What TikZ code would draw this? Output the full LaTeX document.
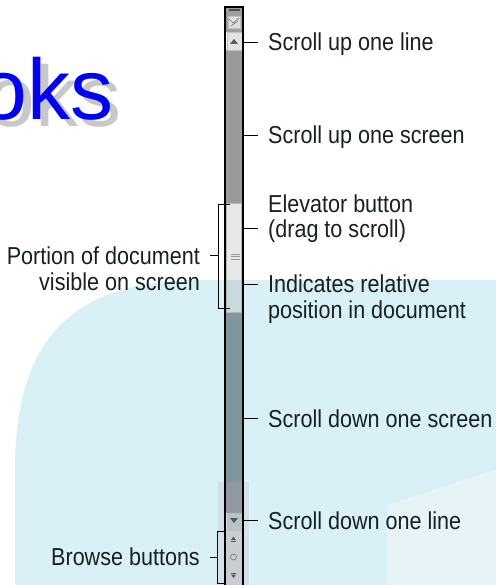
\documentclass[tikz,border=0pt]{standalone}
\usepackage{fontspec}
\setmainfont{Liberation Sans}
\newfontfamily\labelfont[FakeStretch=0.88]{Liberation Sans}
\usetikzlibrary{calc}
\definecolor{titleblue}{HTML}{0000FF}
\definecolor{titleshadow}{HTML}{C8C8C8}
\definecolor{cyanbg}{HTML}{D8F0F6}
\definecolor{cubelight}{HTML}{E6F4F8}
\definecolor{labelink}{HTML}{182024}
\definecolor{trackup}{HTML}{9A9A9A}
\definecolor{trackdown}{HTML}{7E969C}
\definecolor{elevup}{HTML}{E8E8E8}
\definecolor{elevdown}{HTML}{C6DADF}
\definecolor{btnface}{HTML}{E2E2E2}
\definecolor{btndown}{HTML}{B8C3C7}
\definecolor{browseface}{HTML}{C9CCD3}
\definecolor{pinkshade}{HTML}{D0A8C0}

\begin{document}
\begin{tikzpicture}[
    x=1pt, y=-1pt,
    label text/.style={font=\labelfont\fontsize{24.5}{26}\selectfont,inner sep=0pt,
        text height=17pt,text depth=0pt,text=labelink},
    leader/.style={draw,line width=0.9pt,shorten >=10pt},
    bracket/.style={draw,line width=0.9pt},
    bar border/.style={draw,line width=1.3pt},
    button/.style={draw=black!25,line width=0.6pt},
    glyph/.style={fill=black!65}
    ]
    \useasboundingbox (0,0) rectangle (495,585);
    % background
    \fill [cyanbg] (15,600) -- (15,470) .. controls (15,335) and (75,281) .. (200,280) -- (500,280) -- (500,600) -- cycle;
    \fill [cubelight] (387,505) -- (500,468) -- (500,600) -- (387,600) -- cycle;
    % title
    \node [anchor=base west,inner sep=0pt,text=titleshadow,font=\fontsize{86}{90}\selectfont] (titleshade) at (-13,127) {oks};
    \node [anchor=base west,inner sep=0pt,text=titleblue,font=\fontsize{86}{90}\selectfont] (title) at (-21,120) {oks};
    % track
    \fill [black!38] (225,7) rectangle (243,32);
    \fill [trackup] (225,50) rectangle (243,280);
    \fill [trackdown] (225,280) rectangle (243,513);
    \fill [pinkshade,opacity=0.22] (218,482) rectangle (249,585);
    % top split box
    \draw [line width=1.2pt,black!70] (229,10) -- (240,10);
    \draw [button,fill=black!12] (228,16) rectangle (240,28);
    \draw [black!55,line width=0.6pt] (229,19) -- (233,23) -- (239,18) (231,26) -- (238,21);
    % up one line
    \draw [button,fill=btnface] (227,32) rectangle (242,50);
    \fill [glyph] (230,44) -- (238,44) -- (234,39) -- cycle;
    % elevator
    \fill [elevup] (226,203) rectangle (242,280);
    \fill [elevdown] (226,280) rectangle (242,312);
    \draw [black!28,line width=0.6pt] (226.5,203) rectangle (241.5,312);
    \foreach \y in {254,256.5,259} {
        \draw [black!40,line width=0.6pt] (231,\y) -- (240,\y);
    }
    % down one line
    \draw [button,fill=btndown] (227,513) rectangle (242,530);
    \fill [glyph] (230,518) -- (238,518) -- (234,523) -- cycle;
    % browse
    \fill [browseface] (226,530.5) rectangle (242,590);
    \fill [glyph] (231,540) -- (236,540) -- (233.5,536.5) -- cycle;
    \draw [black!65,line width=0.8pt] (231,541.5) -- (236,541.5);
    \draw [black!55,fill=black!20,line width=0.6pt] (233.5,557) circle (3);
    \draw [black!65,line width=0.8pt] (231,573) -- (236,573);
    \fill [glyph] (231,574.5) -- (236,574.5) -- (233.5,578) -- cycle;
    % bar outline
    \draw [bar border] (225,590) -- (225,7) -- (243,7) -- (243,590);
    \coordinate (bar) at (243,0);
    % brackets
    \draw [bracket] (230,204) -- (218,204) -- (218,308) -- (230,308);
    \coordinate (portionbrace) at (218,0);
    \draw [bracket] (226,531) -- (217,531) -- (217,583) -- (226,583);
    \coordinate (browsebrace) at (217,0);
    % labels right
    \foreach \n/\y/\t in {upline/50.5/Scroll up one line,upscreen/143.5/Scroll up one screen,
        elev1/212/Elevator button,elev2/237/{(drag to scroll)},
        rel1/292.5/Indicates relative,rel2/318/position in document,
        downscreen/427/Scroll down one screen,downline/529/Scroll down one line} {
        \node [label text,anchor=base west] (\n) at (268,\y) {\t};
    }
    % labels left
    \node [label text,anchor=base east] (portion1) at (200,264) {Portion of document};
    \node [label text,anchor=base east] (portion2) at (200,290) {visible on screen};
    \node [label text,anchor=base east] (browse) at (200,565.5) {Browse buttons};
    % leaders
    \foreach \n in {upline,upscreen,elev2,rel1,downscreen,downline} {
        \draw [leader] (bar |- \n.west) -- (\n.west);
    }
    \draw [leader] (portionbrace |- portion1.east) -- (portion1.east);
    \draw [leader] (browsebrace |- browse.east) -- (browse.east);
\end{tikzpicture}
\end{document}
